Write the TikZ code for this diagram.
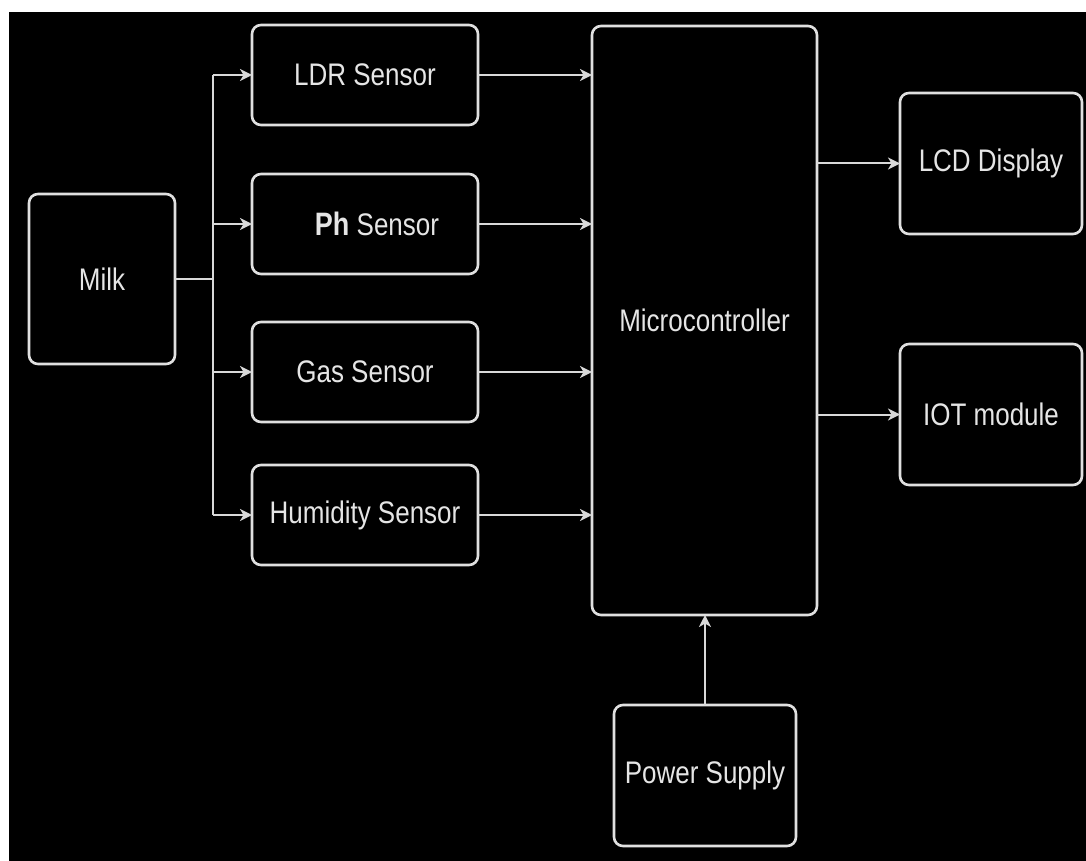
\documentclass[tikz,border=0pt]{standalone}
\usepackage{fontspec}
\setmainfont{Liberation Sans}
\usetikzlibrary{arrows.meta}
\newcommand{\tallt}[1]{\scalebox{1}[1.2]{#1}}
\tikzset{
  blk/.style={draw=white!88!black, line width=2.6pt, rounded corners=9pt,
    fill=black, text=white!90!black, inner sep=0pt, outer sep=0pt,
    font=\fontsize{26}{30}\selectfont},
  sens/.style={blk, minimum width=226pt, minimum height=100pt},
  outb/.style={blk, minimum width=182pt, minimum height=141pt},
  conn/.style={draw=white!85!black, line width=2pt,
    -{Stealth[length=12pt,width=12pt,inset=3.5pt]}},
  plain/.style={draw=white!85!black, line width=2pt}
}
\begin{document}
\begin{tikzpicture}[x=1pt,y=-1pt]
\useasboundingbox (0,0) rectangle (1086,861);
\fill[white] (0,0) rectangle (1086,861);
\fill[black] (9,12) rectangle (1086,861);

\node[blk, minimum width=146pt, minimum height=170pt] (milk) at (102,279) {\tallt{Milk}};
\node[sens] (ldr) at (365,75) {\tallt{LDR Sensor}};
\node[sens] (ph) at (365,224) {\hspace*{24pt}\tallt{{\fontsize{27}{30}\selectfont\bfseries Ph} Sensor}};
\node[sens] (gas) at (365,372) {\tallt{Gas Sensor}};
\node[sens] (hum) at (365,515) {\tallt{Humidity Sensor}};
\node[blk, minimum width=225pt, minimum height=589pt] (mcu) at (704.5,320.5) {\tallt{Microcontroller}};
\node[outb] (lcd) at (991,163.5) {\tallt{LCD Display}};
\node[outb] (iot) at (991,414.5) {\tallt{IOT module}};
\node[outb] (pwr) at (705,775.5) {\tallt{Power Supply}};

\coordinate (j) at (213,279);
\draw[plain] (milk.east) -- (j);
\draw[plain] (j |- ldr.west) -- (j |- hum.west);
\draw[conn] (j |- ldr.west) -- (ldr.west);
\draw[conn] (j |- ph.west) -- (ph.west);
\draw[conn] (j |- gas.west) -- (gas.west);
\draw[conn] (j |- hum.west) -- (hum.west);

\draw[conn] (ldr.east) -- (mcu.west |- ldr.east);
\draw[conn] (ph.east) -- (mcu.west |- ph.east);
\draw[conn] (gas.east) -- (mcu.west |- gas.east);
\draw[conn] (hum.east) -- (mcu.west |- hum.east);

\draw[conn] (mcu.east |- lcd.west) -- (lcd.west);
\draw[conn] (mcu.east |- iot.west) -- (iot.west);
\draw[conn] (pwr.north) -- (mcu.south -| pwr.north);
\end{tikzpicture}
\end{document}
